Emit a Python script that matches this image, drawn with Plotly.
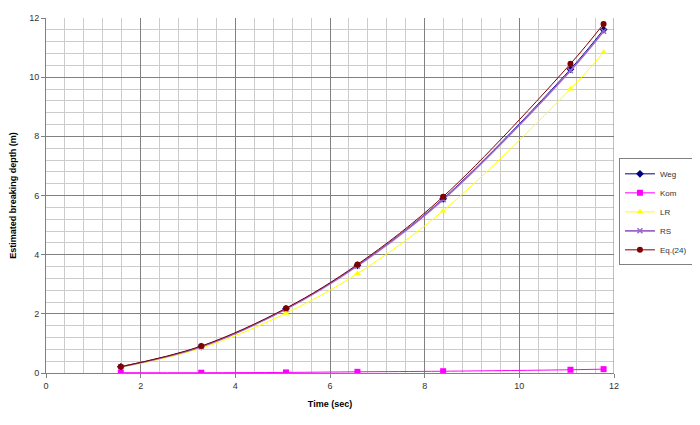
import plotly.graph_objects as go

time_sec = [1.58, 3.28, 5.07, 6.58, 8.39, 11.08, 11.78]
weg = [0.21, 0.89, 2.17, 3.64, 5.89, 10.27, 11.61]
kom = [0.01, 0.01, 0.02, 0.04, 0.06, 0.11, 0.13]
lr = [0.19, 0.84, 2.02, 3.36, 5.48, 9.60, 10.84]
rs = [0.21, 0.89, 2.16, 3.62, 5.86, 10.22, 11.55]
eq24 = [0.21, 0.91, 2.19, 3.67, 5.96, 10.45, 11.80]

series = [
    ("Weg", weg, "#000080", "diamond", 6, 1),
    ("Kom", kom, "#FF00FF", "square", 6, 1),
    ("LR", lr, "#FFFF00", "triangle-up", 6, 1),
    ("RS", rs, "#9966CC", "x-thin-open", 5, 1.6),
    ("Eq.(24)", eq24, "#800000", "circle", 6, 1),
]

fig = go.Figure()
for name, vals, color, sym, size, lw in series:
    fig.add_trace(go.Scatter(
        x=time_sec, y=vals, name=name, mode="lines+markers",
        line=dict(color=color, width=lw, shape="spline"),
        marker=dict(symbol=sym, color=color, size=size,
                    line=dict(color=color, width=1.5) if "open" in sym else None),
    ))

axis_common = dict(
    showline=True, linecolor="#808080", linewidth=1, mirror=False,
    gridcolor="#808080", gridwidth=1, zeroline=False, automargin=False,
    ticks="outside", ticklen=4, tickcolor="#808080",
    tickfont=dict(family="Liberation Sans, Arial", size=9, color="#333333"),
)

fig.update_layout(
    width=700, height=425,
    margin=dict(l=38, r=94, t=10, b=60),
    paper_bgcolor="white", plot_bgcolor="white",
    font=dict(family="Liberation Sans, Arial", size=9, color="black"),
    xaxis=dict(
        range=[0, 12], dtick=2, tick0=0,
        title=dict(text="<b>Time (sec)</b>", font=dict(size=9), standoff=10),
        minor=dict(dtick=0.4, showgrid=True, gridcolor="#CCCCCC", gridwidth=1),
        **axis_common,
    ),
    yaxis=dict(
        range=[0, 12], dtick=2, tick0=0,
        title=dict(text="<b>Estimated breaking depth (m)</b>", font=dict(size=9), standoff=12),
        minor=dict(dtick=0.4, showgrid=True, gridcolor="#CCCCCC", gridwidth=1),
        **axis_common,
    ),
    legend=dict(
        x=1.139, y=0.454, xanchor="right", yanchor="middle",
        bordercolor="#808080", borderwidth=1, bgcolor="white",
        font=dict(family="Liberation Sans, Arial", size=8, color="#333333"),
        tracegroupgap=0, itemwidth=30,
    ),
    showlegend=True,
)

# right border of the plot area
fig.add_shape(type="line", xref="x", yref="paper", x0=12, x1=12, y0=0, y1=1,
              line=dict(color="#808080", width=1))

fig.write_html("out.html")
